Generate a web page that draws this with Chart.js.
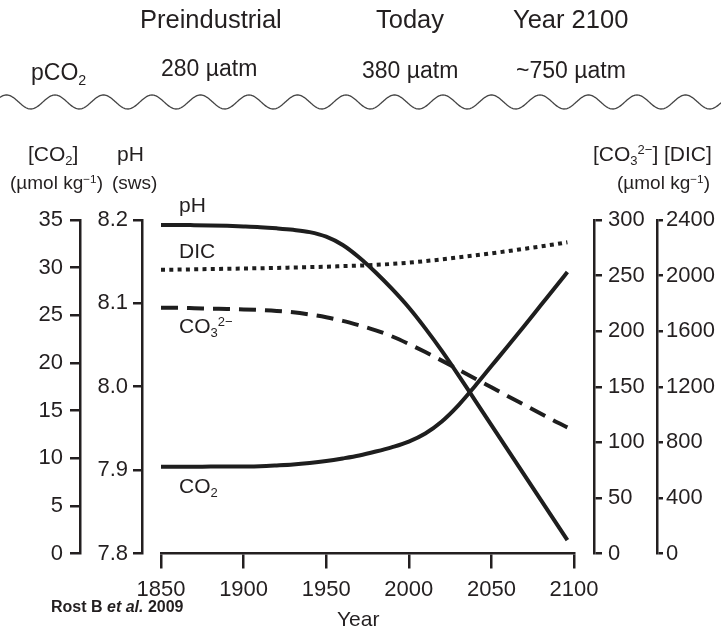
<!DOCTYPE html>
<html><head><meta charset="utf-8">
<script src="https://cdn.jsdelivr.net/npm/chart.js@4.4.1/dist/chart.umd.min.js"></script>
<style>
html,body{margin:0;padding:0;background:#fff;}
#wrap{position:relative;width:721px;height:631px;overflow:hidden;font-family:"Liberation Sans",Arial,Helvetica,sans-serif;color:#231f20;}
#c{position:absolute;left:0;top:0;}
.t{position:absolute;white-space:nowrap;line-height:1;}
.sub{font-size:62%;position:relative;top:0.32em;}
.sup{font-size:62%;position:relative;top:-0.55em;}
#wave{position:absolute;left:0;top:0;}
</style></head>
<body><div id="wrap">
<canvas id="c" width="721" height="631"></canvas>
<svg id="wave" width="721" height="631"><path id="wavePath" fill="none" stroke="#444" stroke-width="1.3"/></svg>

<div class="t" style="left:140px;top:7px;font-size:25.5px">Preindustrial</div>
<div class="t" style="left:376px;top:7px;font-size:25.5px">Today</div>
<div class="t" style="left:513px;top:7px;font-size:25.5px">Year 2100</div>

<div class="t" style="left:31px;top:61px;font-size:23px">pCO<span class="sub">2</span></div>
<div class="t" style="left:161px;top:57px;font-size:23px">280 µatm</div>
<div class="t" style="left:362px;top:59px;font-size:23px">380 µatm</div>
<div class="t" style="left:516px;top:59px;font-size:23px">~750 µatm</div>

<div class="t" style="left:28px;top:143px;font-size:21px">[CO<span class="sub">2</span>]</div>
<div class="t" style="left:117px;top:143px;font-size:21px">pH</div>
<div class="t" style="left:10px;top:173px;font-size:19px">(µmol kg<span class="sup">−1</span>)</div>
<div class="t" style="left:112px;top:173px;font-size:19px">(sws)</div>
<div class="t" style="left:593px;top:143px;font-size:21px">[CO<span class="sub">3</span><span class="sup">2−</span>]</div>
<div class="t" style="left:664px;top:143px;font-size:21px">[DIC]</div>
<div class="t" style="left:617px;top:173px;font-size:19px">(µmol kg<span class="sup">−1</span>)</div>

<div class="t" style="left:179px;top:194px;font-size:21px">pH</div>
<div class="t" style="left:179px;top:240px;font-size:21px">DIC</div>
<div class="t" style="left:179px;top:315px;font-size:21px">CO<span class="sub">3</span><span class="sup">2−</span></div>
<div class="t" style="left:179px;top:475px;font-size:21px">CO<span class="sub">2</span></div>

<div class="t" style="left:337px;top:608px;font-size:21px">Year</div>
<div class="t" style="left:51px;top:599px;font-size:16px;font-weight:bold">Rost B <i>et al.</i> 2009</div>
</div>
<script>
// ---- data ----
const years = [1850,1860,1870,1880,1890,1900,1910,1920,1930,1940,1950,1960,1970,1980,1990,2000,2010,2020,2030,2040,2050,2060,2070,2080,2090,2096];
const pHValues = [8.194,8.194,8.1938,8.1935,8.193,8.1923,8.1914,8.190,8.1882,8.1855,8.180,8.170,8.155,8.137,8.117,8.095,8.070,8.043,8.014,7.984,7.954,7.924,7.894,7.864,7.834,7.816];
const dicValues = [2042,2043,2045,2047,2049,2051,2053,2055,2058,2061,2064,2068,2072,2077,2084,2093,2104,2117,2131,2145,2160,2176,2193,2210,2228,2240];
const co3Values = [221,221,220.7,220.3,220,219.6,219,218.2,217,215,212.5,209.3,205.3,200.8,195.2,188.5,181.2,173.5,165.5,157.5,149.5,141.5,133.6,125.7,117.8,113.5];
const co2Values = [9.11,9.11,9.11,9.12,9.12,9.13,9.16,9.24,9.34,9.50,9.71,9.98,10.29,10.70,11.17,11.75,12.60,13.86,15.55,17.56,19.67,21.78,23.91,26.07,28.23,29.53];

const xTicks = [1850,1900,1950,2000,2050,2100];
const co2Ticks = [0,5,10,15,20,25,30,35];
const pHTicks = [7.8,7.9,8.0,8.1,8.2];
const co3Ticks = [0,50,100,150,200,250,300];
const dicTicks = [0,400,800,1200,1600,2000,2400];

// ---- wave decoration ----
(function(){
  let d = '';
  for (let x = 0; x <= 721; x += 1) {
    const y = 102 - 7 * Math.cos(2 * Math.PI * (x - 55) / 48.5);
    d += (x === 0 ? 'M' : 'L') + x + ' ' + y.toFixed(2) + ' ';
  }
  document.getElementById('wavePath').setAttribute('d', d);
})();

const FONT = '"Liberation Sans", Arial, Helvetica, sans-serif';
const INK = '#231f20';
const LINE = '#1e1e1e';

function pts(vals){ return years.map((x,i)=>({x:x, y:vals[i]})); }

function yAxis(position, weight, min, max, tickVals, width, tickLen, pad, fmt){
  return {
    type:'linear', position, weight, min, max,
    afterBuildTicks: s => { s.ticks = tickVals.map(v=>({value:v})); },
    afterFit: s => { s.width = width; },
    ticks:{ font:{family:FONT,size:22}, color:INK, padding:pad, callback: fmt },
    grid:{ drawOnChartArea:false, tickLength:tickLen, tickWidth:2.5, lineWidth:2.5, color:INK, tickColor:INK },
    border:{ display:true, width:2.5, color:INK }
  };
}
function spacer(position, width){
  return {
    type:'linear', position, weight:0, min:0, max:1,
    afterFit: s => { s.width = width; },
    ticks:{ display:false }, grid:{ display:false }, border:{ display:false }
  };
}

new Chart(document.getElementById('c'), {
  type:'line',
  data:{
    datasets:[
      { label:'pH', data:pts(pHValues), yAxisID:'pH', borderColor:LINE, borderWidth:4, pointRadius:0, cubicInterpolationMode:'monotone', borderCapStyle:'butt' },
      { label:'DIC', data:pts(dicValues), yAxisID:'DIC', borderColor:LINE, borderWidth:4, borderDash:[4,4.3], pointRadius:0, cubicInterpolationMode:'monotone', borderCapStyle:'butt' },
      { label:'CO3', data:pts(co3Values), yAxisID:'CO3', borderColor:LINE, borderWidth:4, borderDash:[17,9], pointRadius:0, cubicInterpolationMode:'monotone', borderCapStyle:'butt' },
      { label:'CO2', data:pts(co2Values), yAxisID:'CO2', borderColor:LINE, borderWidth:4, pointRadius:0, cubicInterpolationMode:'monotone', borderCapStyle:'butt' }
    ]
  },
  options:{
    responsive:false, animation:false, devicePixelRatio:1,
    layout:{ padding:{ top:220, bottom:0, left:0, right:0 } },
    plugins:{ legend:{display:false}, tooltip:{enabled:false}, title:{display:false} },
    scales:{
      x:{
        type:'linear', min:1850, max:2100,
        afterBuildTicks: s => { s.ticks = xTicks.map(v=>({value:v})); },
        afterFit: s => { s.height = 77.5; },
        ticks:{ font:{family:FONT,size:22}, color:INK, padding:8, maxRotation:0, autoSkip:false, callback: v => String(v) },
        grid:{ drawOnChartArea:false, tickLength:15, tickWidth:2.5, lineWidth:2.5, color:INK, tickColor:INK },
        border:{ display:true, width:2.5, color:INK }
      },
      CO2: yAxis('left', 2, 0, 35, co2Ticks, 80, 10, 7, v => String(v)),
      pH:  yAxis('left', 1, 7.8, 8.2, pHTicks, 62, 9, 5, v => Number(v).toFixed(1)),
      spL: spacer('left', 19),
      spR: spacer('right', 20),
      CO3: yAxis('right', 1, 0, 300, co3Ticks, 63, 8, 6, v => String(v)),
      DIC: yAxis('right', 2, 0, 2400, dicTicks, 64, 6, 3, v => String(v))
    }
  }
});
</script>
</body></html>
